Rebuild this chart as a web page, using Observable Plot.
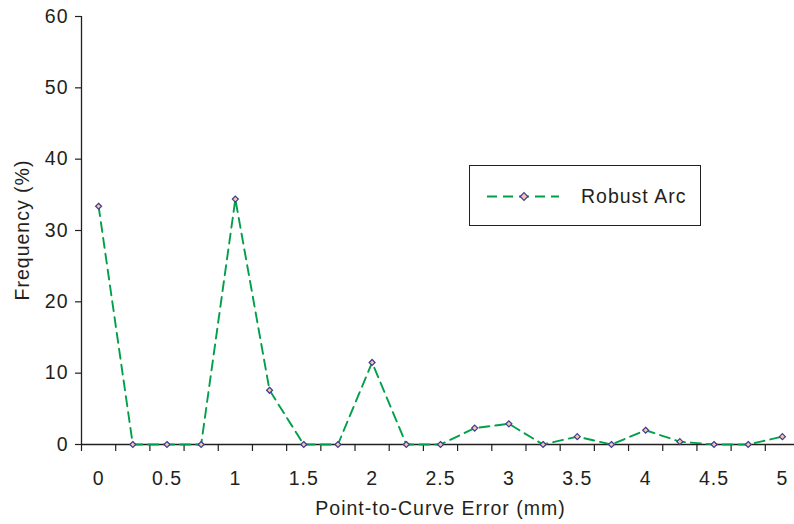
<!DOCTYPE html>
<html>
<head>
<meta charset="utf-8">
<script src="https://cdn.jsdelivr.net/npm/d3@7"></script>
<script src="https://cdn.jsdelivr.net/npm/@observablehq/plot@0.6"></script>
<style>
  html, body { margin: 0; padding: 0; background: #fff; }
  #wrap { position: relative; width: 794px; height: 524px; overflow: hidden; font-family: "Liberation Sans", Arial, Helvetica, sans-serif; color: #231f20; }
  #chart svg text { letter-spacing: 1px; }
  #legend { position: absolute; left: 469px; top: 165px; width: 230px; height: 59px; border: 1.3px solid #231f20; background: #fff; }
  #legend svg { position: absolute; left: 0; top: 0; }
  #legend span { position: absolute; left: 111px; top: 19px; font-size: 19.5px; line-height: 22px; letter-spacing: 1px; white-space: nowrap; }
  #ytitle { position: absolute; left: 22px; top: 230px; transform: translate(-50%, -50%) rotate(-90deg); font-size: 19.5px; line-height: 22px; letter-spacing: 1px; white-space: nowrap; }
</style>
</head>
<body>
<div id="wrap">
  <div id="chart"></div>
  <div id="ytitle"></div>
  <div id="legend">
    <svg width="90" height="59">
      <line x1="17" y1="30.5" x2="89" y2="30.5" stroke="#00a04a" stroke-width="2.2" stroke-dasharray="10,6"/>
      <path transform="translate(54,30.5)" d="M0,-3.8L3.8,0L0,3.8L-3.8,0Z" fill="#f5c9a0" stroke="#3c3c96" stroke-width="1.2"/>
    </svg>
    <span id="legendText"></span>
  </div>
</div>
<script>
const errorMM = [0, 0.25, 0.5, 0.75, 1, 1.25, 1.5, 1.75, 2, 2.25, 2.5, 2.75, 3, 3.25, 3.5, 3.75, 4, 4.25, 4.5, 4.75, 5];
const frequency = [33.4, 0, 0, 0, 34.4, 7.6, 0, 0, 11.5, 0, 0, 2.3, 2.9, 0, 1.1, 0, 2.0, 0.4, 0, 0, 1.1];
const xTickLabels = [0, 0.5, 1, 1.5, 2, 2.5, 3, 3.5, 4, 4.5, 5];
const yTickLabels = [0, 10, 20, 30, 40, 50, 60];
const seriesName = "Robust Arc";
const xTitle = "Point-to-Curve Error (mm)";
const yTitle = "Frequency (%)";

document.getElementById("legendText").textContent = seriesName;
document.getElementById("ytitle").textContent = yTitle;

const data = errorMM.map((x, i) => ({x, y: frequency[i]}));
const step = errorMM[1] - errorMM[0];
const boundaries = errorMM.map(x => x - step / 2).concat([errorMM[errorMM.length - 1] + step / 2]);
const ink = "#231f20";

const chart = Plot.plot({
  width: 794,
  height: 524,
  marginLeft: 81,
  marginRight: -5,
  marginTop: 16,
  marginBottom: 80,
  x: {domain: [boundaries[0], boundaries[boundaries.length - 1]]},
  y: {domain: [0, 60]},
  style: {fontFamily: "'Liberation Sans', Arial, Helvetica, sans-serif", fontSize: "19.5px", color: ink, background: "#fff", overflow: "hidden"},
  marks: [
    Plot.ruleX([boundaries[0]], {stroke: ink, strokeWidth: 1.3}),
    Plot.ruleY([0], {stroke: ink, strokeWidth: 1.3}),
    Plot.axisY({ticks: yTickLabels, tickSize: 6, tickPadding: 7, label: null, stroke: ink, strokeWidth: 1.2, fontSize: 19.5}),
    Plot.axisX({ticks: boundaries, tickSize: 7, tickFormat: () => "", label: null, stroke: ink, strokeWidth: 1.2}),
    Plot.axisX({ticks: xTickLabels, tickSize: 0, tickPadding: 27, tickFormat: d => String(d), label: null, fontSize: 19.5}),
    Plot.line(data, {x: "x", y: "y", stroke: "#00a04a", strokeWidth: 1.9, strokeDasharray: "10,6"}),
    Plot.dot(data, {x: "x", y: "y", symbol: "diamond2", r: 2.7, fill: "#f5c9a0", stroke: "#3c3c96", strokeWidth: 1.2}),
    Plot.text([xTitle], {frameAnchor: "bottom", dy: 64, lineAnchor: "middle", fontSize: 19.5, fill: ink})
  ]
});
document.getElementById("chart").appendChild(chart);
</script>
</body>
</html>
